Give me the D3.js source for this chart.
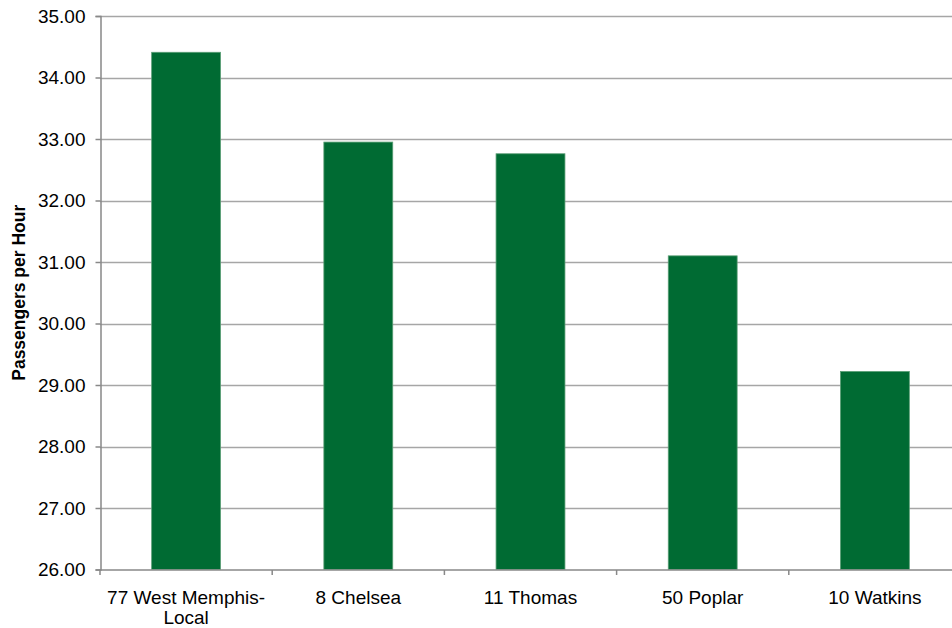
<!DOCTYPE html>
<html>
<head>
<meta charset="utf-8">
<script src="https://cdn.jsdelivr.net/npm/d3@7"></script>
<style>
  body { margin: 0; background: #fff; }
  svg { display: block; font-family: "Liberation Sans", Arial, sans-serif; }
</style>
</head>
<body>
<script>
// data
var routes = ["77 West Memphis-Local", "8 Chelsea", "11 Thomas", "50 Poplar", "10 Watkins"];
var routeLines = [["77 West Memphis-", "Local"], ["8 Chelsea"], ["11 Thomas"], ["50 Poplar"], ["10 Watkins"]];
var pph = [34.41, 32.95, 32.76, 31.10, 29.22];
var yTicks = [26, 27, 28, 29, 30, 31, 32, 33, 34, 35];

var w = 952, h = 628;
// plot box (window.top is read-only, so not "top")
var plotL = 100, plotR = 961, plotT = 16, plotB = 569.5;

var svg = d3.select("body").append("svg")
  .attr("width", w)
  .attr("height", h);

var x = d3.scaleBand()
  .domain(routes)
  .range([plotL, plotR])
  .paddingInner(0.6)
  .paddingOuter(0.3);

var y = d3.scaleLinear()
  .domain([26, 35])
  .range([plotB, plotT]);

// gridlines
svg.append("g")
  .selectAll("line")
  .data(yTicks.slice(1))
  .enter()
  .append("line")
  .attr("x1", plotL)
  .attr("x2", plotR)
  .attr("y1", function(d){ return Math.round(y(d)) + 0.5; })
  .attr("y2", function(d){ return Math.round(y(d)) + 0.5; })
  .attr("stroke", "#a6a6a6")
  .attr("stroke-width", 1.5);

// bars
svg.append("g")
  .selectAll("rect")
  .data(pph)
  .enter()
  .append("rect")
  .attr("x", function(d, i){ return x(routes[i]); })
  .attr("y", function(d){ return y(d); })
  .attr("width", x.bandwidth())
  .attr("height", function(d){ return plotB - y(d); })
  .attr("fill", "#006b33")
  .attr("stroke", "#5a9e75")
  .attr("stroke-width", 0.8);

// y axis
var yAxis = svg.append("g")
  .attr("transform", "translate(" + (plotL + 0.5) + ",0)")
  .call(d3.axisLeft(y)
    .tickValues(yTicks)
    .tickSize(5)
    .tickPadding(10)
    .tickFormat(d3.format(".2f")));
yAxis.select(".domain").attr("stroke", "#888").attr("stroke-width", 1.5);
yAxis.selectAll(".tick line").attr("stroke", "#888").attr("stroke-width", 1.5);
yAxis.selectAll(".tick text")
  .attr("font-size", 19)
  .attr("font-family", "Liberation Sans, Arial, sans-serif")
  .attr("fill", "#000");

// x axis
var xAxis = svg.append("g")
  .attr("transform", "translate(0," + (plotB + 0.5) + ")");
xAxis.append("line")
  .attr("x1", plotL)
  .attr("x2", plotR)
  .attr("stroke", "#888")
  .attr("stroke-width", 1.5);
var step = x.step();
xAxis.selectAll("line.tk")
  .data(d3.range(routes.length + 1))
  .enter()
  .append("line")
  .attr("class", "tk")
  .attr("x1", function(i){ return plotL + i * step; })
  .attr("x2", function(i){ return plotL + i * step; })
  .attr("y1", 0)
  .attr("y2", 5)
  .attr("stroke", "#888")
  .attr("stroke-width", 1.5);

var labels = xAxis.selectAll("text")
  .data(routes)
  .enter()
  .append("text")
  .attr("x", function(d){ return x(d) + x.bandwidth() / 2; })
  .attr("y", 34)
  .attr("text-anchor", "middle")
  .attr("font-size", 19)
  .attr("fill", "#000");
labels.each(function(d, i){
  var t = d3.select(this);
  routeLines[i].forEach(function(line, j){
    t.append("tspan")
      .attr("x", x(d) + x.bandwidth() / 2)
      .attr("dy", j === 0 ? 0 : 20)
      .text(line);
  });
});

// y title
svg.append("text")
  .attr("transform", "translate(25," + ((plotT + plotB) / 2) + ") rotate(-90)")
  .attr("text-anchor", "middle")
  .attr("font-size", 17.5)
  .attr("font-weight", "bold")
  .text("Passengers per Hour");
</script>
</body>
</html>
